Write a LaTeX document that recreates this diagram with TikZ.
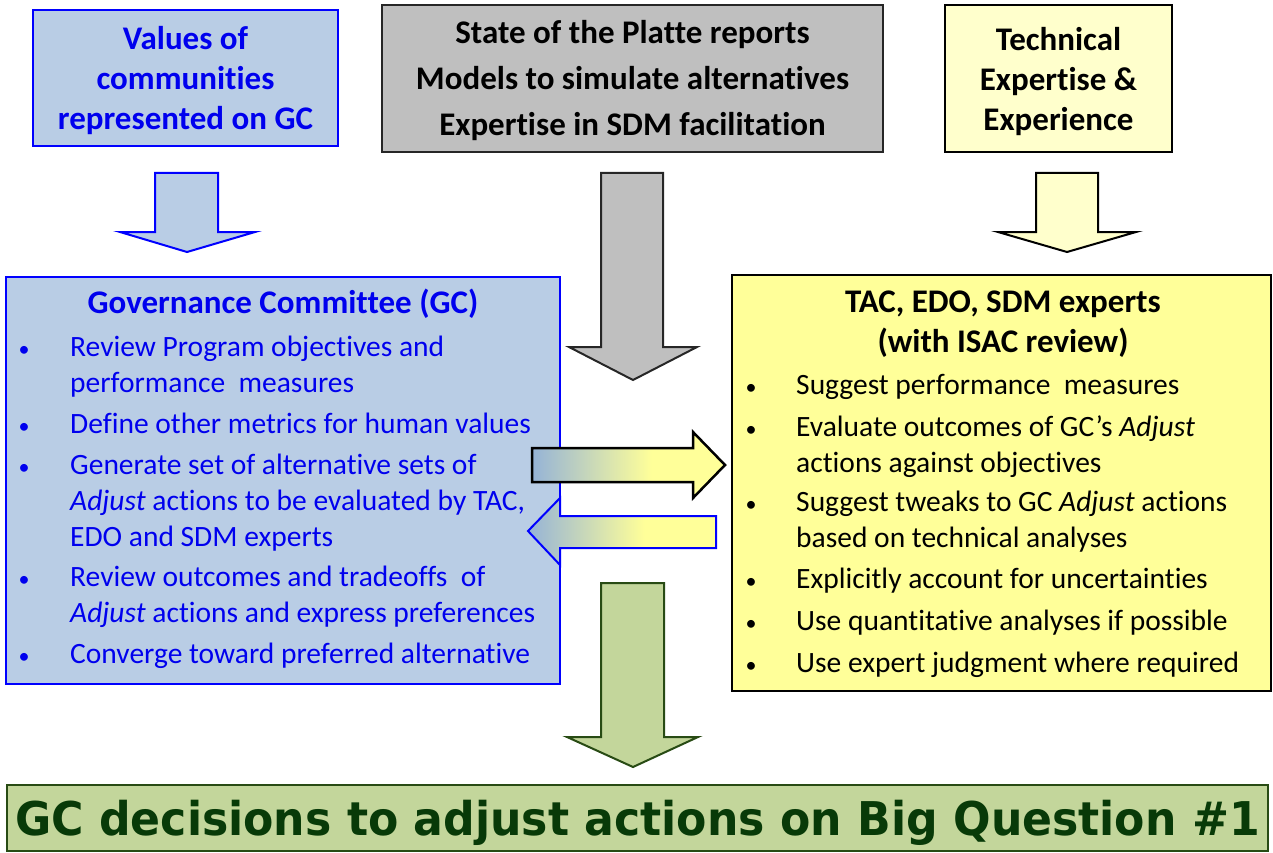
\documentclass[tikz,border=0pt]{standalone}
\usepackage{fontspec}
\setmainfont{Carlito}[Ligatures=NoCommon]
\newfontfamily\bannerfont{DejaVu Sans}
\usepackage{graphicx}

\definecolor{gcfill}{RGB}{185,205,229}
\definecolor{gcblue}{RGB}{0,0,238}
\definecolor{greyfill}{RGB}{191,191,191}
\definecolor{greyline}{RGB}{38,38,38}
\definecolor{paleyellow}{RGB}{255,255,204}
\definecolor{tacyellow}{RGB}{255,255,153}
\definecolor{decfill}{RGB}{195,214,155}
\definecolor{decline}{RGB}{40,75,20}
\definecolor{dectext}{RGB}{8,58,8}
\definecolor{arrowblue}{RGB}{149,179,215}

% blue on the left, yellow from a bit past the middle
\pgfdeclarehorizontalshading{gcshade}{100bp}{color(0bp)=(arrowblue); color(25bp)=(arrowblue); color(56bp)=(tacyellow); color(100bp)=(tacyellow)}

\tikzset{
  box/.style={draw, line width=2pt, inner sep=0pt},
  topbox/.style={box, align=center, text depth=0pt, font=\fontsize{33}{40}\selectfont\bfseries},
  hd/.style={anchor=base, inner sep=0pt, font=\fontsize{33}{40}\selectfont\bfseries},
  ln/.style={anchor=base west, inner sep=0pt, font=\fontsize{29.5}{35}\selectfont},
  dot/.style={anchor=base, inner sep=0pt, font=\fontsize{22}{26}\selectfont},
  blockarrow/.style={line width=2pt, line join=miter}
}

\begin{document}
\begin{tikzpicture}[x=1pt,y=-1pt]
\useasboundingbox (0,0) rectangle (1273,853);

% inputs along the top
\node (vals) at (185.5,78) [topbox, draw=blue, fill=gcfill, text=gcblue, minimum width=305pt, minimum height=136pt] {Values of\\communities\\represented on GC};
\node (state) at (632.5,78.5) [box, draw=greyline, line width=2.5pt, fill=greyfill, minimum width=501pt, minimum height=147pt] {};
\node (statetxt) at (632.5,81) [align=center, inner sep=0pt, font=\fontsize{33}{46}\selectfont\bfseries] {State of the Platte reports\\Models to simulate alternatives\\Expertise in SDM facilitation};
\node (tech) at (1058.5,78.5) [topbox, fill=paleyellow, minimum width=227pt, minimum height=147pt] {Technical\\Expertise \&\\Experience};

% the two working groups
\node (gc) at (283,480.5) [box, draw=blue, fill=gcfill, minimum width=554pt, minimum height=407pt] {};
\node (tac) at (1001.5,483) [box, fill=tacyellow, minimum width=539pt, minimum height=416pt] {};

\node (gchead) at (283,313) [hd, text=gcblue] {Governance Committee (GC)};
\foreach \y/\t [count=\i] in {356/Review Program objectives and,
    392/performance\ \ measures,
    433/Define other metrics for human values,
    474/Generate set of alternative sets of,
    510/{\textit{Adjust} actions to be evaluated by TAC,},
    546/EDO and SDM experts,
    586/Review outcomes and tradeoffs\ \ of,
    622/{\textit{Adjust} actions and express preferences},
    663/Converge toward preferred alternative}
  \node (gc-\i) at (70,\y) [ln, text=gcblue] {\t};
\foreach \y [count=\i] in {356,433,474,586,663}
  \node (gcdot-\i) at (24,\y) [dot, text=gcblue] {\textbullet};

\node (tachead) at (1003,312) [hd] {TAC, EDO, SDM experts};
\node (tacsub) at (1003,352) [hd] {(with ISAC review)};
\foreach \y/\t [count=\i] in {394/Suggest performance\ \ measures,
    436/{Evaluate outcomes of GC's \textit{Adjust}},
    472/actions against objectives,
    511/{Suggest tweaks to GC \textit{Adjust} actions},
    547/based on technical analyses,
    588/Explicitly account for uncertainties,
    630/Use quantitative analyses if possible,
    672/Use expert judgment where required}
  \node (tac-\i) at (796,\y) [ln] {\t};
\foreach \y [count=\i] in {394,436,511,588,630,672}
  \node (tacdot-\i) at (751,\y) [dot] {\textbullet};

% block arrows
\draw[blockarrow, draw=blue, fill=gcfill] (155,173) -- (218,173) -- (218,232) -- (255,232) -- (187,252) -- (120,232) -- (155,232) -- cycle;
\draw[blockarrow, draw=greyline, fill=greyfill] (601,173) -- (663,173) -- (663,347) -- (697,347) -- (633,380) -- (569,347) -- (601,347) -- cycle;
\draw[blockarrow, fill=paleyellow] (1036,173) -- (1098,173) -- (1098,232) -- (1136,232) -- (1067,252) -- (998,232) -- (1036,232) -- cycle;
\draw[blockarrow, draw=decline, fill=decfill] (601,583) -- (664,583) -- (664,737) -- (698,737) -- (633,767) -- (567,737) -- (601,737) -- cycle;

\path[blockarrow, draw=black, line width=2.5pt, shade, shading=gcshade] (532,448) -- (693,448) -- (693,432) -- (725,465) -- (693,498) -- (693,482) -- (532,482) -- cycle;
\path[blockarrow, draw=blue, shade, shading=gcshade] (716,516) -- (560,516) -- (560,498) -- (528,531) -- (560,565) -- (560,548) -- (716,548) -- cycle;

% outcome
\node (decision) at (637.5,818) [box, draw=decline, fill=decfill, text=dectext, text depth=0pt, minimum width=1261pt, minimum height=66pt, font=\bannerfont\fontsize{46.5}{50}\selectfont\bfseries] {\scalebox{0.95}[1]{GC decisions to adjust actions on Big Question \#1}};
\end{tikzpicture}
\end{document}
